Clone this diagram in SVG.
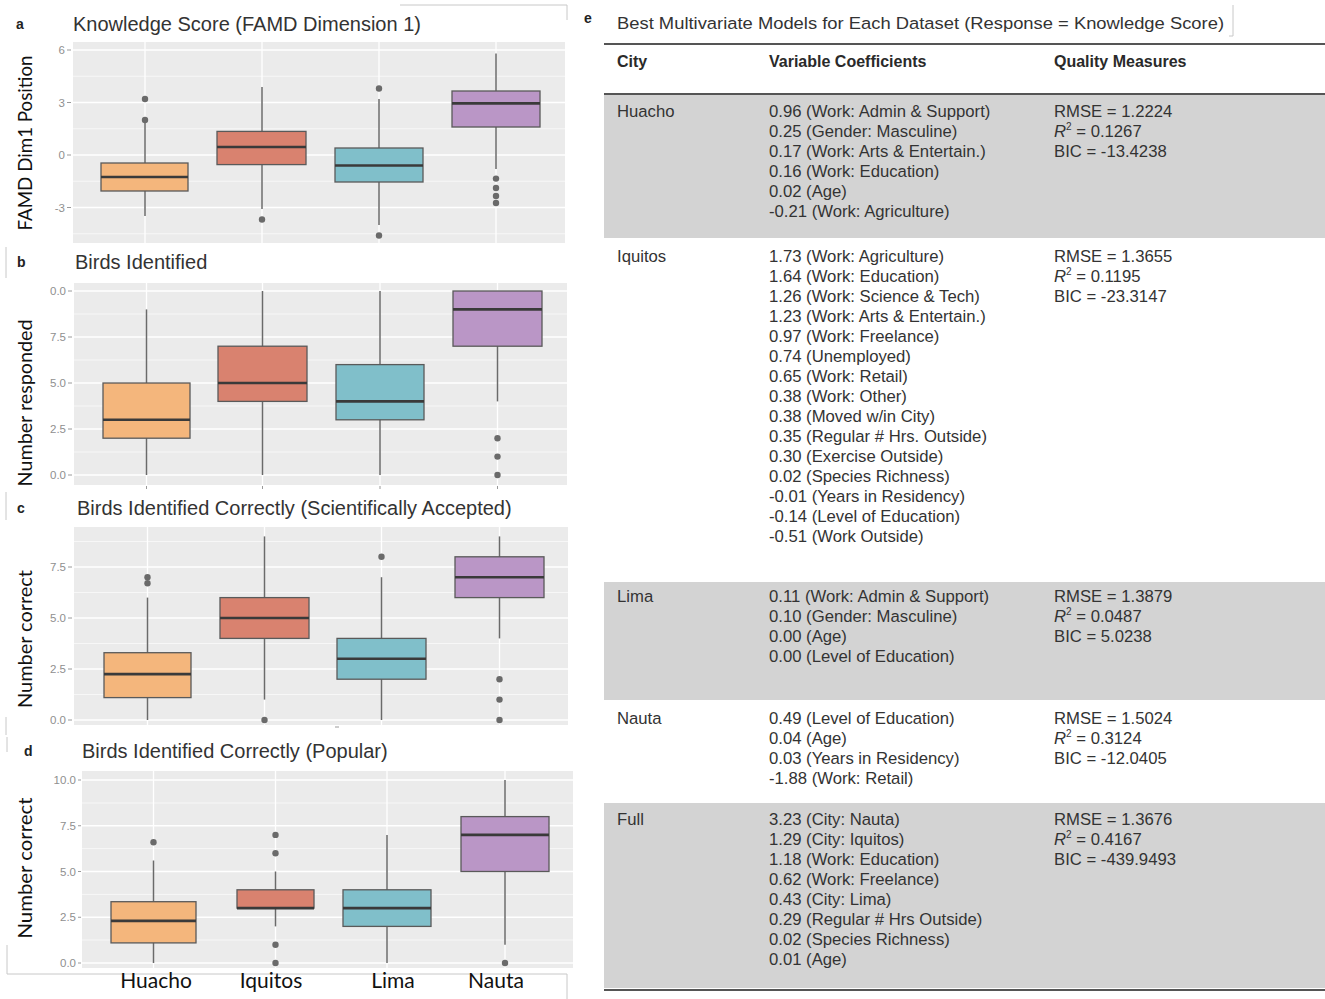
<svg xmlns="http://www.w3.org/2000/svg" width="1325" height="999" viewBox="0 0 1325 999">
<style>
.bg{fill:#ebebeb}
.gmaj{stroke:#fff;stroke-width:1.3}
.gmin{stroke:#fff;stroke-width:0.6}
.tl{font-family:"Liberation Sans",Arial,sans-serif;font-size:11.5px;fill:#8f8f8f;text-anchor:end}
.tk{stroke:#9a9a9a;stroke-width:1}
.box{stroke:#5a5a5a;stroke-width:1.3}
.hua{fill:#f4b67c}.iqu{fill:#d9826f}.lim{fill:#80bfca}.nau{fill:#ba96c6}
.med{stroke:#3a3a3a;stroke-width:2.6}
.wh{stroke:#6a6a6a;stroke-width:1.5}
.out{fill:#6a6a6a}
.ttl{font-family:"Liberation Sans",Arial,sans-serif;font-size:20px;fill:#333}
.let{font-family:"Liberation Sans",Arial,sans-serif;font-size:14px;font-weight:bold;fill:#222}
.yl{font-family:Lato,"Liberation Sans",sans-serif;font-size:20px;fill:#111;text-anchor:middle}
.xl{font-family:Lato,"Liberation Sans",sans-serif;font-size:21px;fill:#111;text-anchor:middle}
.deco{stroke:#c8c8c8;stroke-width:1;fill:none}
.tt{font-family:"Liberation Sans",Arial,sans-serif;font-size:16.7px;fill:#333}
.th{font-family:"Liberation Sans",Arial,sans-serif;font-size:16px;font-weight:bold;fill:#2a2a2a}
.rowbg{fill:#d3d3d3}
.rule{stroke:#555;stroke-width:2}
</style>

<!-- decorative crop borders -->
<g id="decor">
<path class="deco" d="M400 5H567V20"/>
<path class="deco" d="M6 247V278"/>
<path class="deco" d="M6 492V520M6 717V735"/>
<path class="deco" d="M7 737V752M7 945V974H567V999"/>
<path class="deco" d="M1233 5V36H1229"/>
</g>

<!-- Panel a -->
<g id="panel-a">
<text class="let" x="16" y="29">a</text>
<text class="ttl" x="73" y="31">Knowledge Score (FAMD Dimension 1)</text>
<text class="yl" transform="translate(32,143) rotate(-90)" textLength="175" lengthAdjust="spacingAndGlyphs">FAMD Dim1 Position</text>
<rect class="bg" x="73" y="42" width="492" height="201"/>
<g>
<line class="gmin" x1="73" x2="565" y1="76.25" y2="76.25"/><line class="gmin" x1="73" x2="565" y1="128.75" y2="128.75"/>
<line class="gmin" x1="73" x2="565" y1="181.25" y2="181.25"/><line class="gmin" x1="73" x2="565" y1="233.75" y2="233.75"/>
<line class="gmaj" x1="73" x2="565" y1="50" y2="50"/><line class="gmaj" x1="73" x2="565" y1="102.5" y2="102.5"/>
<line class="gmaj" x1="73" x2="565" y1="155" y2="155"/><line class="gmaj" x1="73" x2="565" y1="207.5" y2="207.5"/>
<line class="gmaj" x1="145" x2="145" y1="42" y2="243"/><line class="gmaj" x1="262" x2="262" y1="42" y2="243"/>
<line class="gmaj" x1="379" x2="379" y1="42" y2="243"/><line class="gmaj" x1="496" x2="496" y1="42" y2="243"/>
</g>
<g>
<text class="tl" x="65" y="54">6</text><text class="tl" x="65" y="106.5">3</text>
<text class="tl" x="65" y="159">0</text><text class="tl" x="65" y="211.5">-3</text>
<path class="tk" d="M67 50H71M67 102.5H71M67 155H71M67 207.5H71"/>
</g>
<g id="a-huacho"><line class="wh" x1="145" x2="145" y1="120" y2="216"/><rect class="box hua" x="101" y="163" width="87" height="28"/><line class="med" x1="101" x2="188" y1="177" y2="177"/><circle class="out" cx="145" cy="99" r="3.2"/><circle class="out" cx="145" cy="120" r="3.2"/></g>
<g id="a-iquitos"><line class="wh" x1="262" x2="262" y1="87" y2="209"/><rect class="box iqu" x="217" y="131.4" width="89" height="33.2"/><line class="med" x1="217" x2="306" y1="147" y2="147"/><circle class="out" cx="262" cy="219.5" r="3.2"/></g>
<g id="a-lima"><line class="wh" x1="379" x2="379" y1="99" y2="225"/><rect class="box lim" x="335" y="148" width="88" height="34"/><line class="med" x1="335" x2="423" y1="165.5" y2="165.5"/><circle class="out" cx="379" cy="88.5" r="3.2"/><circle class="out" cx="379" cy="235.5" r="3.2"/></g>
<g id="a-nauta"><line class="wh" x1="496" x2="496" y1="53.5" y2="169"/><rect class="box nau" x="452" y="91" width="88" height="36"/><line class="med" x1="452" x2="540" y1="103.4" y2="103.4"/><circle class="out" cx="496" cy="178.6" r="3.2"/><circle class="out" cx="496" cy="188" r="3.2"/><circle class="out" cx="496" cy="196" r="3.2"/><circle class="out" cx="496" cy="203" r="3.2"/></g>
</g>

<!-- Panel b -->
<g id="panel-b">
<text class="let" x="17" y="267">b</text>
<text class="ttl" x="75" y="269">Birds Identified</text>
<text class="yl" transform="translate(32,403) rotate(-90)" textLength="167" lengthAdjust="spacingAndGlyphs">Number responded</text>
<rect class="bg" x="74" y="283" width="493" height="202"/>
<g>
<line class="gmin" x1="74" x2="567" y1="314" y2="314"/><line class="gmin" x1="74" x2="567" y1="360" y2="360"/>
<line class="gmin" x1="74" x2="567" y1="406" y2="406"/><line class="gmin" x1="74" x2="567" y1="452" y2="452"/>
<line class="gmaj" x1="74" x2="567" y1="291" y2="291"/><line class="gmaj" x1="74" x2="567" y1="337" y2="337"/>
<line class="gmaj" x1="74" x2="567" y1="383" y2="383"/><line class="gmaj" x1="74" x2="567" y1="429" y2="429"/>
<line class="gmaj" x1="74" x2="567" y1="475" y2="475"/>
<line class="gmaj" x1="146.5" x2="146.5" y1="283" y2="485"/><line class="gmaj" x1="262.5" x2="262.5" y1="283" y2="485"/>
<line class="gmaj" x1="380" x2="380" y1="283" y2="485"/><line class="gmaj" x1="497.5" x2="497.5" y1="283" y2="485"/>
</g>
<g>
<text class="tl" x="66" y="295">0.0</text><text class="tl" x="66" y="341">7.5</text>
<text class="tl" x="66" y="387">5.0</text><text class="tl" x="66" y="433">2.5</text><text class="tl" x="66" y="479">0.0</text>
<path class="tk" d="M68 291H72M68 337H72M68 383H72M68 429H72M68 475H72M146.5 486V489M262.5 486V489M380 486V489M497.5 486V489"/>
</g>
<g id="b-huacho"><line class="wh" x1="146.5" x2="146.5" y1="309.4" y2="475"/><rect class="box hua" x="103" y="383" width="87" height="55.2"/><line class="med" x1="103" x2="190" y1="419.8" y2="419.8"/></g>
<g id="b-iquitos"><line class="wh" x1="262.5" x2="262.5" y1="291" y2="475"/><rect class="box iqu" x="218" y="346.2" width="89" height="55.2"/><line class="med" x1="218" x2="307" y1="383" y2="383"/></g>
<g id="b-lima"><line class="wh" x1="380" x2="380" y1="291" y2="475"/><rect class="box lim" x="336" y="364.6" width="88" height="55.2"/><line class="med" x1="336" x2="424" y1="401.4" y2="401.4"/></g>
<g id="b-nauta"><line class="wh" x1="497.5" x2="497.5" y1="346" y2="401.4"/><rect class="box nau" x="453" y="291" width="89" height="55.2"/><line class="med" x1="453" x2="542" y1="309.4" y2="309.4"/><circle class="out" cx="497.5" cy="438.2" r="3.2"/><circle class="out" cx="497.5" cy="456.6" r="3.2"/><circle class="out" cx="497.5" cy="475" r="3.2"/></g>
</g>

<!-- Panel c -->
<g id="panel-c">
<text class="let" x="17" y="513">c</text>
<text class="ttl" x="77" y="515">Birds Identified Correctly (Scientifically Accepted)</text>
<text class="yl" transform="translate(32,639) rotate(-90)" textLength="138" lengthAdjust="spacingAndGlyphs">Number correct</text>
<rect class="bg" x="74" y="527" width="494" height="198"/>
<g>
<line class="gmin" x1="74" x2="568" y1="541.5" y2="541.5"/><line class="gmin" x1="74" x2="568" y1="592.5" y2="592.5"/>
<line class="gmin" x1="74" x2="568" y1="643.5" y2="643.5"/><line class="gmin" x1="74" x2="568" y1="694.5" y2="694.5"/>
<line class="gmaj" x1="74" x2="568" y1="567" y2="567"/><line class="gmaj" x1="74" x2="568" y1="618" y2="618"/>
<line class="gmaj" x1="74" x2="568" y1="669" y2="669"/><line class="gmaj" x1="74" x2="568" y1="720" y2="720"/>
<line class="gmaj" x1="147.5" x2="147.5" y1="527" y2="725"/><line class="gmaj" x1="264.5" x2="264.5" y1="527" y2="725"/>
<line class="gmaj" x1="381.5" x2="381.5" y1="527" y2="725"/><line class="gmaj" x1="499.5" x2="499.5" y1="527" y2="725"/>
</g>
<g>
<text class="tl" x="66" y="571">7.5</text><text class="tl" x="66" y="622">5.0</text>
<text class="tl" x="66" y="673">2.5</text><text class="tl" x="66" y="724">0.0</text>
<path class="tk" d="M68 567H72M68 618H72M68 669H72M68 720H72M335 727H339"/>
</g>
<g id="c-huacho"><line class="wh" x1="147.5" x2="147.5" y1="597.6" y2="720"/><rect class="box hua" x="104" y="652.7" width="87" height="44.9"/><line class="med" x1="104" x2="191" y1="674.1" y2="674.1"/><circle class="out" cx="147.5" cy="577.2" r="3.2"/><circle class="out" cx="147.5" cy="583.3" r="3.2"/></g>
<g id="c-iquitos"><line class="wh" x1="264.5" x2="264.5" y1="536.4" y2="699.6"/><rect class="box iqu" x="220" y="597.6" width="89" height="40.8"/><line class="med" x1="220" x2="309" y1="618" y2="618"/><circle class="out" cx="264.5" cy="720" r="3.2"/></g>
<g id="c-lima"><line class="wh" x1="381.5" x2="381.5" y1="577.2" y2="720"/><rect class="box lim" x="337" y="638.4" width="89" height="40.8"/><line class="med" x1="337" x2="426" y1="658.8" y2="658.8"/><circle class="out" cx="381.5" cy="556.8" r="3.2"/></g>
<g id="c-nauta"><line class="wh" x1="499.5" x2="499.5" y1="536.4" y2="638.4"/><rect class="box nau" x="455" y="556.8" width="89" height="40.8"/><line class="med" x1="455" x2="544" y1="577.2" y2="577.2"/><circle class="out" cx="499.5" cy="679.2" r="3.2"/><circle class="out" cx="499.5" cy="699.6" r="3.2"/><circle class="out" cx="499.5" cy="720" r="3.2"/></g>
</g>

<!-- Panel d -->
<g id="panel-d">
<text class="let" x="24" y="756">d</text>
<text class="ttl" x="82" y="758">Birds Identified Correctly (Popular)</text>
<text class="yl" transform="translate(32,868) rotate(-90)" textLength="141" lengthAdjust="spacingAndGlyphs">Number correct</text>
<rect class="bg" x="82" y="771" width="491" height="197"/>
<g>
<line class="gmin" x1="82" x2="573" y1="803" y2="803"/><line class="gmin" x1="82" x2="573" y1="848.6" y2="848.6"/>
<line class="gmin" x1="82" x2="573" y1="894.4" y2="894.4"/><line class="gmin" x1="82" x2="573" y1="940" y2="940"/>
<line class="gmaj" x1="82" x2="573" y1="780" y2="780"/><line class="gmaj" x1="82" x2="573" y1="825.75" y2="825.75"/>
<line class="gmaj" x1="82" x2="573" y1="871.5" y2="871.5"/><line class="gmaj" x1="82" x2="573" y1="917.25" y2="917.25"/>
<line class="gmaj" x1="82" x2="573" y1="963" y2="963"/>
<line class="gmaj" x1="153.5" x2="153.5" y1="771" y2="968"/><line class="gmaj" x1="275.5" x2="275.5" y1="771" y2="968"/>
<line class="gmaj" x1="387" x2="387" y1="771" y2="968"/><line class="gmaj" x1="505" x2="505" y1="771" y2="968"/>
</g>
<g>
<text class="tl" x="76" y="784">10.0</text><text class="tl" x="76" y="829.75">7.5</text>
<text class="tl" x="76" y="875.5">5.0</text><text class="tl" x="76" y="921.25">2.5</text><text class="tl" x="76" y="967">0.0</text>
<path class="tk" d="M78 780H81M78 825.75H81M78 871.5H81M78 917.25H81M78 963H81"/>
</g>
<g id="d-huacho"><line class="wh" x1="153.5" x2="153.5" y1="860.5" y2="963"/><rect class="box hua" x="111" y="901.7" width="85" height="41.2"/><line class="med" x1="111" x2="196" y1="920.9" y2="920.9"/><circle class="out" cx="153.5" cy="842.2" r="3.2"/></g>
<g id="d-iquitos"><line class="wh" x1="275.5" x2="275.5" y1="871.5" y2="926.4"/><rect class="box iqu" x="237" y="889.8" width="77" height="18.3"/><line class="med" x1="237" x2="314" y1="908.1" y2="908.1"/><circle class="out" cx="275.5" cy="834.9" r="3.2"/><circle class="out" cx="275.5" cy="853.2" r="3.2"/><circle class="out" cx="275.5" cy="944.7" r="3.2"/><circle class="out" cx="275.5" cy="963" r="3.2"/></g>
<g id="d-lima"><line class="wh" x1="387" x2="387" y1="834.9" y2="963"/><rect class="box lim" x="343" y="889.8" width="88" height="36.6"/><line class="med" x1="343" x2="431" y1="908.1" y2="908.1"/></g>
<g id="d-nauta"><line class="wh" x1="505" x2="505" y1="780" y2="944.7"/><rect class="box nau" x="461" y="816.6" width="88" height="54.9"/><line class="med" x1="461" x2="549" y1="834.9" y2="834.9"/><circle class="out" cx="505" cy="963" r="3.2"/></g>
<g id="x-labels">
<text class="xl" x="156" y="988">Huacho</text>
<text class="xl" x="271" y="988">Iquitos</text>
<text class="xl" x="393" y="988">Lima</text>
<text class="xl" x="496" y="988">Nauta</text>
</g>
</g>

<!-- Panel e: table -->
<g id="panel-e">
<text class="let" x="584" y="23">e</text>
<text class="tt" x="617" y="29" textLength="607" lengthAdjust="spacingAndGlyphs">Best Multivariate Models for Each Dataset (Response = Knowledge Score)</text>
<rect class="rowbg" x="604" y="95" width="721" height="143"/>
<rect class="rowbg" x="604" y="582" width="721" height="118"/>
<rect class="rowbg" x="604" y="803" width="721" height="185"/>
<line class="rule" x1="604" x2="1325" y1="44" y2="44"/>
<line class="rule" x1="604" x2="1325" y1="94" y2="94"/>
<line class="rule" x1="604" x2="1325" y1="990" y2="990"/>
<g id="header">
<text class="th" x="617" y="67">City</text>
<text class="th" x="769" y="67">Variable Coefficients</text>
<text class="th" x="1054" y="67">Quality Measures</text>
</g>
<g id="row-huacho">
<text class="tt" x="617" y="117">Huacho</text>
<text class="tt" x="769" y="117">0.96 (Work: Admin &amp; Support)</text>
<text class="tt" x="769" y="137">0.25 (Gender: Masculine)</text>
<text class="tt" x="769" y="157">0.17 (Work: Arts &amp; Entertain.)</text>
<text class="tt" x="769" y="177">0.16 (Work: Education)</text>
<text class="tt" x="769" y="197">0.02 (Age)</text>
<text class="tt" x="769" y="217">-0.21 (Work: Agriculture)</text>
<text class="tt" x="1054" y="117">RMSE = 1.2224</text>
<text class="tt" x="1054" y="137"><tspan font-style="italic">R</tspan><tspan dy="-7" font-size="10">2</tspan><tspan dy="7"> = 0.1267</tspan></text>
<text class="tt" x="1054" y="157">BIC = -13.4238</text>
</g>
<g id="row-iquitos">
<text class="tt" x="617" y="262">Iquitos</text>
<text class="tt" x="769" y="262">1.73 (Work: Agriculture)</text>
<text class="tt" x="769" y="282">1.64 (Work: Education)</text>
<text class="tt" x="769" y="302">1.26 (Work: Science &amp; Tech)</text>
<text class="tt" x="769" y="322">1.23 (Work: Arts &amp; Entertain.)</text>
<text class="tt" x="769" y="342">0.97 (Work: Freelance)</text>
<text class="tt" x="769" y="362">0.74 (Unemployed)</text>
<text class="tt" x="769" y="382">0.65 (Work: Retail)</text>
<text class="tt" x="769" y="402">0.38 (Work: Other)</text>
<text class="tt" x="769" y="422">0.38 (Moved w/in City)</text>
<text class="tt" x="769" y="442">0.35 (Regular # Hrs. Outside)</text>
<text class="tt" x="769" y="462">0.30 (Exercise Outside)</text>
<text class="tt" x="769" y="482">0.02 (Species Richness)</text>
<text class="tt" x="769" y="502">-0.01 (Years in Residency)</text>
<text class="tt" x="769" y="522">-0.14 (Level of Education)</text>
<text class="tt" x="769" y="542">-0.51 (Work Outside)</text>
<text class="tt" x="1054" y="262">RMSE = 1.3655</text>
<text class="tt" x="1054" y="282"><tspan font-style="italic">R</tspan><tspan dy="-7" font-size="10">2</tspan><tspan dy="7"> = 0.1195</tspan></text>
<text class="tt" x="1054" y="302">BIC = -23.3147</text>
</g>
<g id="row-lima">
<text class="tt" x="617" y="602">Lima</text>
<text class="tt" x="769" y="602">0.11 (Work: Admin &amp; Support)</text>
<text class="tt" x="769" y="622">0.10 (Gender: Masculine)</text>
<text class="tt" x="769" y="642">0.00 (Age)</text>
<text class="tt" x="769" y="662">0.00 (Level of Education)</text>
<text class="tt" x="1054" y="602">RMSE = 1.3879</text>
<text class="tt" x="1054" y="622"><tspan font-style="italic">R</tspan><tspan dy="-7" font-size="10">2</tspan><tspan dy="7"> = 0.0487</tspan></text>
<text class="tt" x="1054" y="642">BIC = 5.0238</text>
</g>
<g id="row-nauta">
<text class="tt" x="617" y="724">Nauta</text>
<text class="tt" x="769" y="724">0.49 (Level of Education)</text>
<text class="tt" x="769" y="744">0.04 (Age)</text>
<text class="tt" x="769" y="764">0.03 (Years in Residency)</text>
<text class="tt" x="769" y="784">-1.88 (Work: Retail)</text>
<text class="tt" x="1054" y="724">RMSE = 1.5024</text>
<text class="tt" x="1054" y="744"><tspan font-style="italic">R</tspan><tspan dy="-7" font-size="10">2</tspan><tspan dy="7"> = 0.3124</tspan></text>
<text class="tt" x="1054" y="764">BIC = -12.0405</text>
</g>
<g id="row-full">
<text class="tt" x="617" y="825">Full</text>
<text class="tt" x="769" y="825">3.23 (City: Nauta)</text>
<text class="tt" x="769" y="845">1.29 (City: Iquitos)</text>
<text class="tt" x="769" y="865">1.18 (Work: Education)</text>
<text class="tt" x="769" y="885">0.62 (Work: Freelance)</text>
<text class="tt" x="769" y="905">0.43 (City: Lima)</text>
<text class="tt" x="769" y="925">0.29 (Regular # Hrs Outside)</text>
<text class="tt" x="769" y="945">0.02 (Species Richness)</text>
<text class="tt" x="769" y="965">0.01 (Age)</text>
<text class="tt" x="1054" y="825">RMSE = 1.3676</text>
<text class="tt" x="1054" y="845"><tspan font-style="italic">R</tspan><tspan dy="-7" font-size="10">2</tspan><tspan dy="7"> = 0.4167</tspan></text>
<text class="tt" x="1054" y="865">BIC = -439.9493</text>
</g>
</g>
</svg>
